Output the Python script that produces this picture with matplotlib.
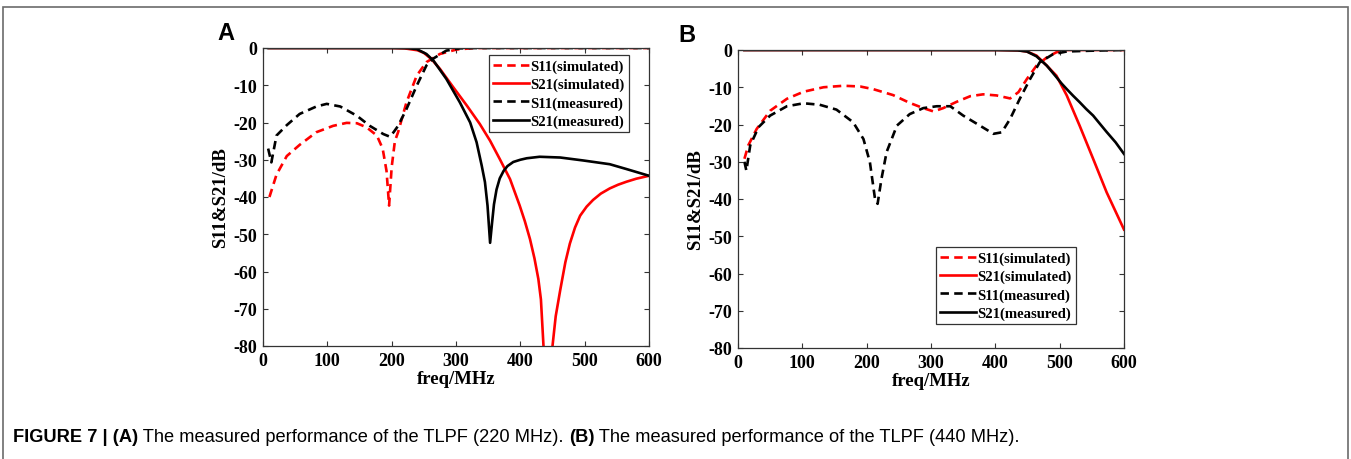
import matplotlib
matplotlib.use("Agg")
import matplotlib.pyplot as plt
from matplotlib.patches import Rectangle

# ---------------- data: panel A (220 MHz) ----------------
a_s11_sim_f = [10, 21, 37, 57, 83, 109, 130, 146, 161, 177, 186, 192, 196, 200, 205, 210, 223, 239, 254, 275, 301, 330, 400, 500, 600]
a_s11_sim_db = [-40, -34, -29, -26, -22.6, -20.9, -20.1, -20.2, -21.3, -23.5, -27, -33, -42.3, -32, -25, -22.6, -14.6, -7.4, -3.8, -1.6, -0.4, 0, 0, 0, 0]

a_s21_sim_f = [10, 100, 200, 220, 240, 250, 262, 275, 296, 317, 337, 353, 368, 384, 399, 407, 415, 422, 428, 432, 436, 441,
               446, 450, 455, 462, 470, 477, 485, 493, 503, 513, 525, 539, 552, 565, 580, 600]
a_s21_sim_db = [0, 0, 0, -0.1, -0.6, -1.3, -3, -5.6, -10.6, -15.5, -20.4, -24.9, -29.8, -35.2, -42.3, -46.5, -51.3, -56.5, -62, -67.5, -80, -100,
                -100, -80, -72, -65, -57.5, -52.5, -48.2, -45, -42.6, -40.8, -39.1, -37.7, -36.7, -35.9, -35.1, -34.3]

a_s11_meas_f = [8, 13, 21, 37, 57, 83, 99, 120, 146, 166, 187, 197, 203, 210, 223, 239, 254, 265, 285, 306, 330, 400, 500, 600]
a_s11_meas_db = [-27, -30.7, -23.5, -20.7, -17.7, -15.7, -15, -15.7, -18.2, -20.9, -23.1, -23.8, -22.6, -20.9, -16.4, -10.1, -4.7, -2.8, -0.7, -0.1, 0, 0, 0, 0]

a_s21_meas_f = [8, 100, 200, 225, 239, 254, 265, 285, 306, 322, 332, 340, 345, 349, 353, 356, 359, 363, 368, 374, 380, 389, 400,
                410, 430, 462, 498, 539, 565, 600]
a_s21_meas_db = [0, 0, 0, -0.05, -0.3, -1.6, -3.4, -8.3, -14.6, -20, -25.3, -31.6, -36, -42.3, -52.3, -47, -42, -38, -35, -33, -31.7, -30.6, -30,
                 -29.6, -29.2, -29.4, -30.2, -31.2, -32.5, -34.3]

# ---------------- data: panel B (440 MHz) ----------------
b_s11_sim_f = [10, 16, 29, 50, 76, 102, 133, 164, 190, 210, 241, 267, 288, 304, 319, 340, 361, 381, 402, 423, 436, 449, 464, 480, 495, 511, 550, 600]
b_s11_sim_db = [-29.2, -25.6, -21.2, -16.3, -13.1, -11.2, -10, -9.6, -9.8, -10.5, -12.1, -14.2, -15.6, -16.5, -15.6, -13.9, -12.4, -11.9, -12.2, -13, -11.3, -7.8, -4.2, -2, -0.6, 0, 0, 0]

b_s21_sim_f = [10, 100, 200, 300, 400, 435, 449, 464, 480, 495, 511, 531, 552, 573, 600]
b_s21_sim_db = [0, 0, 0, 0, 0, -0.1, -0.4, -1.5, -4.2, -6.9, -12.2, -20.3, -29.2, -38.2, -48.2]

b_s11_meas_f = [10, 13, 19, 32, 50, 76, 102, 127, 153, 179, 195, 205, 213, 217, 223, 231, 247, 267, 288, 309, 330, 350, 376, 397, 410, 423, 438, 454, 469, 490, 511, 547, 600]
b_s11_meas_db = [-30, -32.4, -25.6, -20.7, -17.6, -15.1, -14.3, -14.7, -16, -19.4, -23.9, -30.1, -40, -41.3, -34.6, -27.4, -20.3, -17.2, -15.6, -15.1, -15.1, -17.6, -20.3, -22.5, -22.1, -18.5, -13.1, -7.8, -3.3, -1.1, -0.4, -0.2, 0]

b_s21_meas_f = [10, 100, 200, 300, 400, 435, 449, 464, 480, 495, 503, 511, 521, 531, 541, 552, 562, 573, 587, 600]
b_s21_meas_db = [0, 0, 0, 0, 0, -0.1, -0.4, -1.7, -4.2, -7.3, -9, -10.5, -12.3, -14, -15.8, -17.6, -19.7, -22, -24.8, -27.9]

x_ticks = [0, 100, 200, 300, 400, 500, 600]
y_ticks = [0, -10, -20, -30, -40, -50, -60, -70, -80]
legend_labels = ["S11(simulated)", "S21(simulated)", "S11(measured)", "S21(measured)"]
caption_parts = [("FIGURE 7 | (A)", "bold"), (" The measured performance of the TLPF (220 MHz). ", "normal"),
                 ("(B)", "bold"), (" The measured performance of the TLPF (440 MHz).", "normal")]

W, H = 1351, 460
fig = plt.figure(figsize=(W / 100, H / 100), dpi=100)

serif = ["Liberation Serif", "DejaVu Serif"]
sans = ["Liberation Sans", "DejaVu Sans"]

# outer frame
fig.add_artist(Rectangle((3 / W, -0.05), (1348 - 3) / W, (H - 8) / H + 0.05, transform=fig.transFigure,
                         fill=False, edgecolor="#6b6b6b", lw=1.2))

RED = "#ff0000"
BLK = "#000000"
DASH = (3.2, 2.0)
LW = 1.9


def make_axes(left_px, bottom_px):
    ax = fig.add_axes([left_px / W, (H - bottom_px) / H, 386 / W, 298 / H])
    ax.set_xlim(0, 600)
    ax.set_ylim(-80, 0)
    ax.set_xticks(x_ticks)
    ax.set_yticks(y_ticks)
    ax.set_xticklabels([str(v) for v in x_ticks], fontfamily=serif, fontweight="bold", fontsize=13)
    ax.set_yticklabels([str(v) for v in y_ticks], fontfamily=serif, fontweight="bold", fontsize=13)
    ax.tick_params(direction="in", length=3.5, width=0.8, top=True, right=True, pad=4, color="#333333")
    for s in ax.spines.values():
        s.set_linewidth(0.9)
        s.set_color("#333333")
    ax.set_xlabel("freq/MHz", fontfamily=serif, fontweight="bold", fontsize=13.5, labelpad=1)
    ax.set_ylabel("S11&S21/dB", fontfamily=serif, fontweight="bold", fontsize=13.5, labelpad=3)
    return ax


def draw(ax, data, legend_loc):
    (f1, d1), (f2, d2), (f3, d3), (f4, d4) = data
    h1, = ax.plot(f1, d1, color=RED, lw=LW, dashes=DASH)
    h2, = ax.plot(f2, d2, color=RED, lw=LW)
    h3, = ax.plot(f3, d3, color=BLK, lw=LW, dashes=DASH)
    h4, = ax.plot(f4, d4, color=BLK, lw=LW)
    leg = ax.legend([h1, h2, h3, h4], legend_labels, loc="upper left", bbox_to_anchor=legend_loc,
                    prop={"family": serif, "weight": "bold", "size": 10.6}, frameon=True, fancybox=False,
                    edgecolor="#333333", framealpha=1, handlelength=2.4, handletextpad=0.1,
                    borderpad=0.3, labelspacing=0.33, borderaxespad=0)
    leg.get_frame().set_linewidth(0.9)


axA = make_axes(263, 347)
draw(axA, [(a_s11_sim_f, a_s11_sim_db), (a_s21_sim_f, a_s21_sim_db),
           (a_s11_meas_f, a_s11_meas_db), (a_s21_meas_f, a_s21_meas_db)],
     ((489 - 263) / 386, (347 - 56) / 298))

axB = make_axes(738, 349)
draw(axB, [(b_s11_sim_f, b_s11_sim_db), (b_s21_sim_f, b_s21_sim_db),
           (b_s11_meas_f, b_s11_meas_db), (b_s21_meas_f, b_s21_meas_db)],
     ((936 - 738) / 386, (349 - 248) / 298))

fig.text(217 / W, (H - 34) / H, "A", fontfamily=sans, fontweight="bold", fontsize=17, va="center", ha="left")
fig.text(678 / W, (H - 35) / H, "B", fontfamily=sans, fontweight="bold", fontsize=17, va="center", ha="left")

# caption built from pieces
renderer = fig.canvas.get_renderer()
x = 13
for txt, wt in caption_parts:
    t = fig.text(x / W, (H - 442) / H, txt, fontfamily=sans, fontweight=wt, fontsize=13.15, va="baseline", ha="left")
    bb = t.get_window_extent(renderer=renderer)
    x += bb.width

fig.savefig("out.png", dpi=100)
